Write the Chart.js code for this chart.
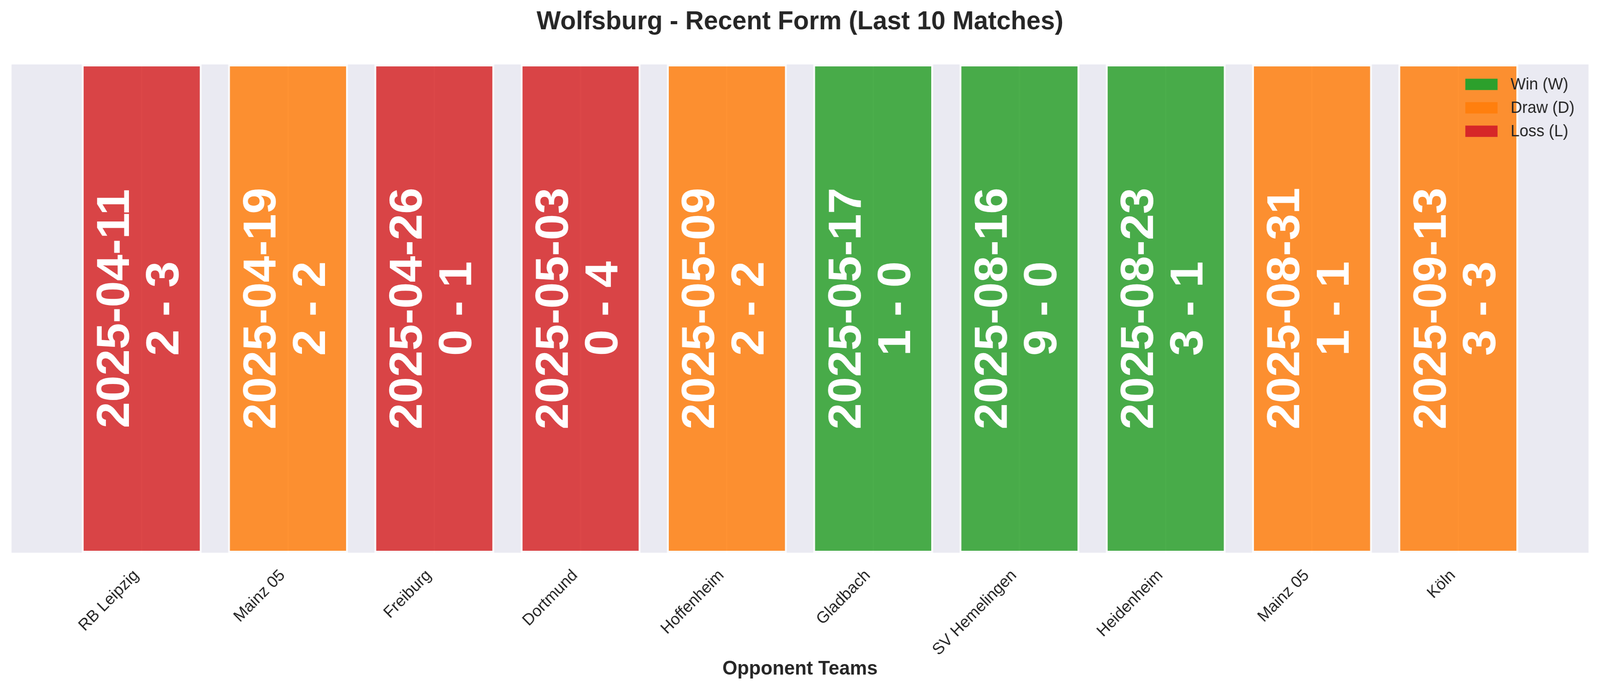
<!DOCTYPE html>
<html>
<head>
<meta charset="utf-8">
<script src="https://cdn.jsdelivr.net/npm/chart.js@4/dist/chart.umd.min.js"></script>
<style>
    html, body { margin: 0; padding: 0; background: #ffffff; overflow: hidden; }
    /* the chart is laid out at 4170x1769 and fitted to whatever window we get */
    canvas { display: block; width: 100vw !important; height: 100vh !important; }
</style>
</head>
<body>
<canvas id="formChart" width="4170" height="1769"></canvas>
<script>
/* ===============================
   DATA
   =============================== */
const opponents = ["RB Leipzig", "Mainz 05", "Freiburg", "Dortmund", "Hoffenheim",
                   "Gladbach", "SV Hemelingen", "Heidenheim", "Mainz 05", "Köln"];
const matchDates = ["2025-04-11", "2025-04-19", "2025-04-26", "2025-05-03", "2025-05-09",
                    "2025-05-17", "2025-08-16", "2025-08-23", "2025-08-31", "2025-09-13"];
const scores = ["2 - 3", "2 - 2", "0 - 1", "0 - 4", "2 - 2",
                "1 - 0", "9 - 0", "3 - 1", "1 - 1", "3 - 3"];
const results = ["L", "D", "L", "L", "D", "W", "W", "W", "D", "D"];
const barHeight = 1;

const legendKeys = ["W", "D", "L"];
const legendLabels = ["Win (W)", "Draw (D)", "Loss (L)"];

/* ===============================
   STYLE
   =============================== */
const solidColors = { W: "#2ca02c", D: "#ff7f0e", L: "#d62728" };
const barColors = { W: "rgba(44,160,44,0.85)", D: "rgba(255,127,14,0.85)", L: "rgba(214,39,40,0.85)" };
const FONT = "'Liberation Sans', Arial, sans-serif";
const TEXT = "#262626";

const plotBackground = {
    id: "plotBackground",
    beforeDraw(chart) {
        const { ctx, chartArea: a } = chart;
        ctx.save();
        ctx.fillStyle = "#ffffff";
        ctx.fillRect(0, 0, chart.width, chart.height);
        ctx.fillStyle = "#eaeaf2";
        ctx.fillRect(a.left, a.top, a.right - a.left, a.bottom - a.top);
        ctx.restore();
    }
};

// date + score written up each bar
const barText = {
    id: "barText",
    afterDatasetsDraw(chart) {
        const { ctx, chartArea: a } = chart;
        const cy = (a.top + a.bottom) / 2;
        ctx.save();
        ctx.fillStyle = "#ffffff";
        ctx.font = "bold 121px " + FONT;
        ctx.textAlign = "center";
        ctx.textBaseline = "alphabetic";
        chart.getDatasetMeta(0).data.forEach((bar, i) => {
            ctx.save();
            ctx.translate(bar.x, cy);
            ctx.rotate(-Math.PI / 2);
            ctx.fillText(matchDates[i], 0, -33);
            ctx.fillText(scores[i], 0, 96);
            ctx.restore();
        });
        ctx.restore();
    }
};

// legend in the upper right corner of the plot
const cornerLegend = {
    id: "cornerLegend",
    afterDatasetsDraw(chart) {
        const { ctx, chartArea: a } = chart;
        const x0 = a.right - 321;
        ctx.save();
        ctx.font = "41.67px " + FONT;
        ctx.textBaseline = "middle";
        legendKeys.forEach((k, i) => {
            const y = a.top + 51 + i * 60;
            ctx.fillStyle = solidColors[k];
            ctx.fillRect(x0, y - 14.5, 84, 29);
            ctx.fillStyle = TEXT;
            ctx.fillText(legendLabels[i], x0 + 118, y + 2);
        });
        ctx.restore();
    }
};

new Chart(document.getElementById("formChart"), {
    type: "bar",
    data: {
        datasets: [{
            data: results.map((r, i) => ({ x: i, y: barHeight })),
            backgroundColor: results.map(r => barColors[r]),
            borderColor: "rgba(255,255,255,0.8)",
            borderWidth: 5,
            borderSkipped: false,
            barPercentage: 0.82,
            categoryPercentage: 1
        }]
    },
    options: {
        responsive: false,
        devicePixelRatio: 1,
        animation: false,
        layout: { padding: { left: 30, right: 30, top: 0, bottom: 0 } },
        plugins: {
            legend: { display: false },
            tooltip: { enabled: false },
            title: {
                display: true,
                text: "Wolfsburg - Recent Form (Last 10 Matches)",
                color: TEXT,
                font: { family: FONT, size: 66.67, weight: "bold" },
                padding: { top: 17, bottom: 68 }
            }
        },
        scales: {
            x: {
                type: "linear",
                offset: false,
                min: -0.89,
                max: 9.89,
                afterBuildTicks: axis => {
                    axis.ticks = opponents.map((_, i) => ({ value: i }));
                },
                afterFit: axis => { axis.height = 354; },
                ticks: {
                    autoSkip: false,
                    minRotation: 45,
                    maxRotation: 45,
                    padding: 34,
                    labelOffset: -14,
                    color: TEXT,
                    font: { family: FONT, size: 41.67 },
                    callback: v => opponents[v]
                },
                grid: { color: "#ffffff", lineWidth: 4, drawTicks: false, offset: false },
                border: { display: false },
                title: {
                    display: true,
                    text: "Opponent Teams",
                    color: TEXT,
                    font: { family: FONT, size: 50, weight: "bold" },
                    padding: { top: 0, bottom: 26 }
                }
            },
            y: {
                display: false,
                min: 0,
                max: 1
            }
        }
    },
    plugins: [plotBackground, barText, cornerLegend]
});
</script>
</body>
</html>
